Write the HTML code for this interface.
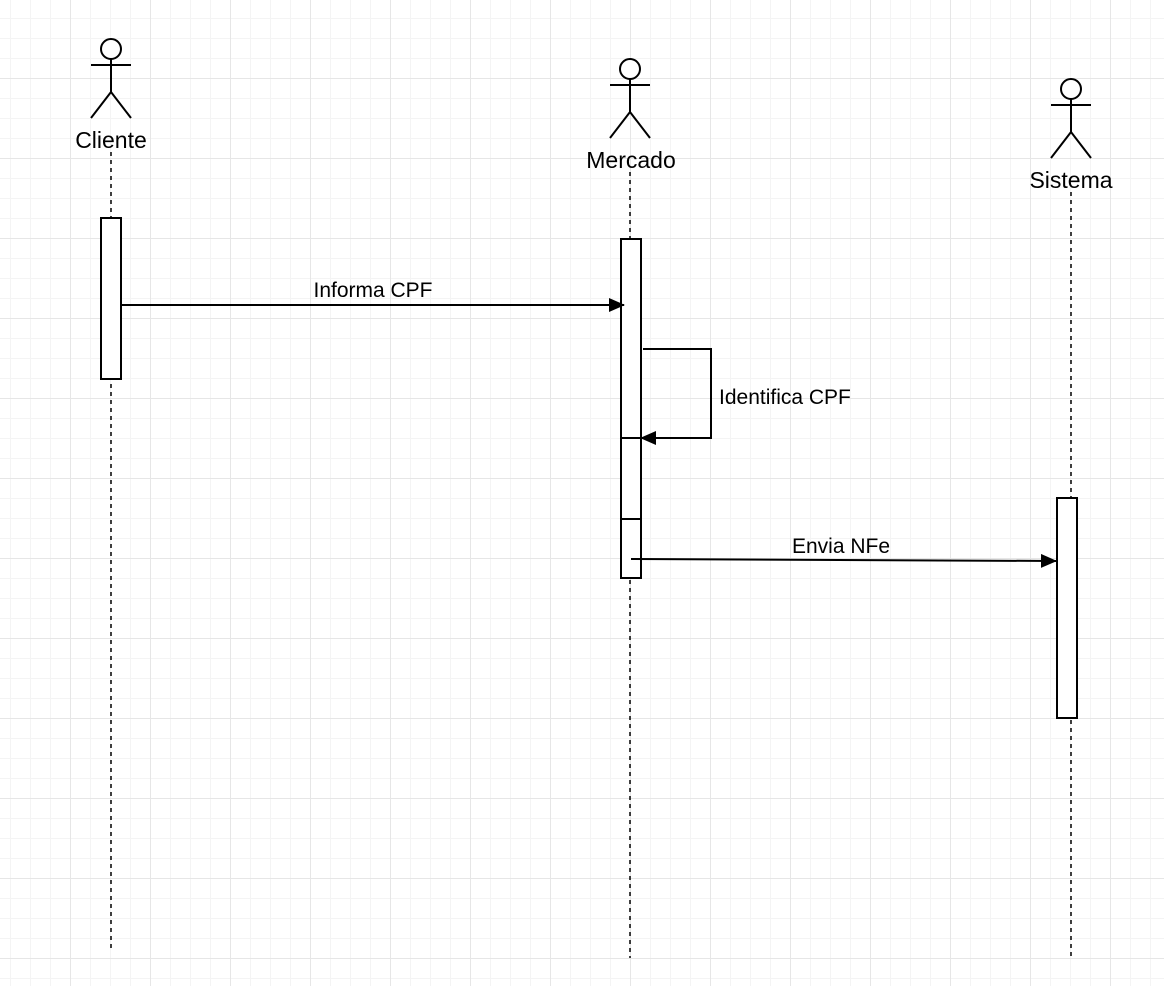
<!DOCTYPE html>
<html><head><style>
html,body{margin:0;padding:0}
body{width:1164px;height:986px;overflow:hidden;background-color:#fff;
background-image:
linear-gradient(to right,#e6e6e6 1px,transparent 1px),
linear-gradient(to bottom,#e6e6e6 1px,transparent 1px),
linear-gradient(to right,#f4f4f4 1px,transparent 1px),
linear-gradient(to bottom,#f4f4f4 1px,transparent 1px);
background-size:80px 80px,80px 80px,20px 20px,20px 20px;
background-position:70px 0,0 78px,10px 0,0 18px;}
</style></head><body>
<svg width="1164" height="986" style="position:absolute;left:0;top:0" font-family="Liberation Sans, sans-serif">
<defs>
<marker id="b" markerWidth="16" markerHeight="14" refX="15" refY="7" orient="auto" markerUnits="userSpaceOnUse"><path d="M0,0 L16,7 L0,14 Z" fill="#000"/></marker></defs>
<g stroke="#000" stroke-width="2" fill="none">
<circle cx="111" cy="49" r="10" fill="#fff"/><path d="M91,65H131M111,59V92L91,118M111,92L131,118"/>
<circle cx="630" cy="69" r="10" fill="#fff"/><path d="M610,85H650M630,79V112L610,138M630,112L650,138"/>
<circle cx="1071" cy="89" r="10" fill="#fff"/><path d="M1051,105H1091M1071,99V132L1051,158M1071,132L1091,158"/>
<g stroke-dasharray="4,4" stroke-width="1.5">
<path d="M111,152V952M630,172V958M1071,192V958"/></g>
<rect x="101" y="218" width="20" height="161" fill="#fff"/>
<rect x="621" y="239" width="20" height="339" fill="#fff"/>
<path d="M621,438H641M621,519H641"/>
<rect x="1057" y="498" width="20" height="220" fill="#fff"/>
<path d="M121,305H624" marker-end="url(#b)"/>
<path d="M643,349H711V438H641" marker-end="url(#b)"/>
<path d="M631,559L1056,561" marker-end="url(#b)"/>
</g>
<g font-size="23" text-anchor="middle" fill="#000">
<text x="111" y="148">Cliente</text>
<text x="631" y="168">Mercado</text>
<text x="1071" y="188">Sistema</text>
</g>
<g font-size="21" fill="#000">
<text x="373" y="297" text-anchor="middle">Informa CPF</text>
<text x="719" y="404">Identifica CPF</text>
<text x="841" y="553" text-anchor="middle">Envia NFe</text>
</g>
</svg>
</body></html>
